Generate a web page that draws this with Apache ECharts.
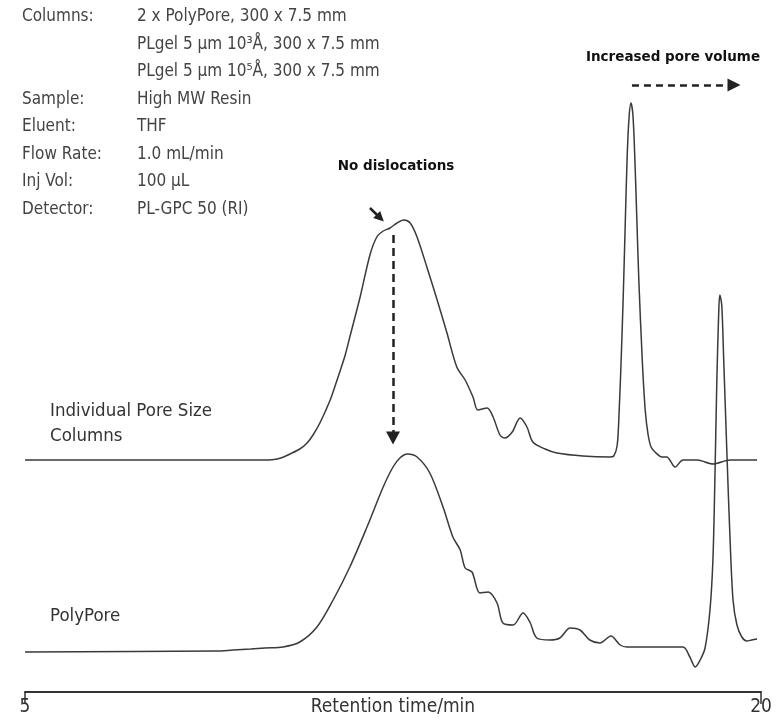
<!DOCTYPE html>
<html>
<head>
<meta charset="utf-8">
<script src="https://cdn.jsdelivr.net/npm/echarts@6/dist/echarts.min.js"></script>
<style>
html,body{margin:0;padding:0;background:#fff;}
#chart{width:780px;height:721px;}
</style>
</head>
<body>
<div id="chart"></div>
<script>
// Retention time (min) and detector response (arbitrary units, offset traces)
var timeTop = [5.00, 9.59, 9.95, 10.14, 10.27, 10.40, 10.60, 10.75, 10.87, 11.01, 11.22, 11.36, 11.52, 11.62, 11.83, 12.03, 12.17, 12.30, 12.44, 12.58, 12.72, 12.85, 12.99, 13.19, 13.40, 13.60, 13.80, 13.97, 14.13, 14.23, 14.42, 14.54, 14.68, 14.78, 14.93, 15.09, 15.23, 15.35, 15.60, 15.84, 16.37, 16.92, 17.00, 17.07, 17.11, 17.15, 17.19, 17.23, 17.27, 17.31, 17.35, 17.39, 17.43, 17.47, 17.51, 17.58, 17.64, 17.70, 17.76, 17.84, 17.98, 18.08, 18.25, 18.41, 18.70, 19.02, 19.37, 19.92];
var signalTop = [232, 232, 232, 233, 235, 238, 243, 249, 257, 269, 292, 312, 336, 355, 395, 437, 455, 461, 464, 469, 472, 469, 455, 425, 392, 359, 325, 312, 295, 282, 284, 275, 257, 254, 260, 274, 265, 250, 243, 239, 236, 235, 236, 247, 282, 332, 392, 462, 532, 574, 589, 577, 532, 472, 412, 332, 282, 257, 245, 240, 235, 235, 225, 232, 232, 228, 232, 232];

var timePoly = [5.00, 8.90, 9.24, 9.60, 9.89, 10.26, 10.60, 10.95, 11.28, 11.62, 11.97, 12.30, 12.50, 12.64, 12.79, 12.99, 13.25, 13.52, 13.72, 13.87, 13.97, 14.11, 14.27, 14.44, 14.62, 14.74, 14.95, 15.15, 15.29, 15.43, 15.70, 15.90, 16.11, 16.31, 16.51, 16.72, 16.94, 17.13, 17.27, 18.41, 18.55, 18.66, 18.76, 18.86, 18.96, 19.02, 19.06, 19.10, 19.14, 19.16, 19.20, 19.24, 19.31, 19.37, 19.43, 19.51, 19.61, 19.71, 19.81, 19.92];
var signalPoly = [40, 41, 42, 43, 44, 45, 50, 65, 92, 125, 165, 205, 225, 234, 238, 235, 219, 185, 155, 142, 124, 120, 99, 100, 89, 69, 67, 79, 70, 54, 52, 54, 64, 62, 52, 49, 56, 47, 45, 45, 35, 25, 32, 44, 82, 132, 212, 312, 382, 397, 387, 332, 232, 152, 92, 67, 55, 51, 52, 53];

var xTicks = [5, 20];
var seriesNames = ['Individual Pore Size Columns', 'PolyPore'];

var infoLabels = ['Columns:', '', '', 'Sample:', 'Eluent:', 'Flow Rate:', 'Inj Vol:', 'Detector:'];
var infoValues = ['2 x PolyPore, 300 x 7.5 mm', 'PLgel 5 µm 10³Å, 300 x 7.5 mm', 'PLgel 5 µm 10⁵Å, 300 x 7.5 mm', 'High MW Resin', 'THF', '1.0 mL/min', '100 µL', 'PL-GPC 50 (RI)'];

function zip(a, b) { return a.map(function (v, i) { return [v, b[i]]; }); }

var condensed = "'Liberation Sans Narrow', 'DejaVu Sans Condensed', 'Roboto', sans-serif";
var boldFont = "'DejaVu Sans', 'Noto Sans', sans-serif";
var ink = '#333333';

var chart = echarts.init(document.getElementById('chart'), null, {renderer: 'canvas'});
var option = {
  animation: false,
  backgroundColor: '#ffffff',
  grid: {left: 25, right: 19, top: 42, bottom: 29, outerBoundsMode: 'none', containLabel: false},
  xAxis: {
    type: 'value', min: 5, max: 20, interval: 15,
    axisLine: {show: true, lineStyle: {color: ink, width: 2}},
    axisTick: {show: true, length: 12, lineStyle: {color: ink, width: 1.5}},
    axisLabel: {
      color: ink, fontSize: 19, fontFamily: condensed, margin: 6,
      formatter: function (v) { return xTicks.indexOf(v) >= 0 ? String(v) : ''; }
    },
    splitLine: {show: false},
    name: 'Retention time/min', nameLocation: 'middle', nameGap: 6, nameMoveOverlap: false,
    nameTextStyle: {color: ink, fontSize: 19, fontFamily: condensed, verticalAlign: 'top'}
  },
  yAxis: {type: 'value', min: 0, max: 650, show: false},
  series: [
    {
      name: seriesNames[0], type: 'line', data: zip(timeTop, signalTop),
      showSymbol: false, smooth: 0.3, clip: false,
      lineStyle: {color: '#3a3a3a', width: 1.5},
      silent: true,
      markLine: {
        silent: true, animation: false,
        label: {show: false},
        data: [
          [{coord: [12.50, 457], symbol: 'none', lineStyle: {type: [8, 5], width: 2.5, color: '#222'}},
           {coord: [12.50, 254], symbol: 'triangle', symbolSize: [14, 13]}],
          [{coord: [17.37, 607], symbol: 'none', lineStyle: {type: [7, 5], width: 2.5, color: '#222'}},
           {coord: [19.45, 607], symbol: 'triangle', symbolSize: [13, 13]}],
          [{coord: [12.03, 484], symbol: 'none', lineStyle: {type: 'solid', width: 2.5, color: '#222'}},
           {coord: [12.24, 474], symbol: 'triangle', symbolSize: [10, 10]}]
        ]
      }
    },
    {
      name: seriesNames[1], type: 'line', data: zip(timePoly, signalPoly),
      showSymbol: false, smooth: 0.3, clip: false,
      lineStyle: {color: '#3a3a3a', width: 1.5},
      silent: true
    }
  ],
  graphic: [
    {type: 'text', left: 22, top: 3, style: {text: infoLabels.join('\n'), fill: '#444', font: '17px ' + condensed, lineHeight: 27.5}},
    {type: 'text', left: 137, top: 3, style: {text: infoValues.join('\n'), fill: '#444', font: '17px ' + condensed, lineHeight: 27.5}},
    {type: 'text', left: 50, top: 399, style: {text: 'Individual Pore Size\nColumns', fill: '#333', font: '18.5px ' + condensed, lineHeight: 25}},
    {type: 'text', left: 50, top: 604, style: {text: 'PolyPore', fill: '#333', font: '18.5px ' + condensed, lineHeight: 25}},
    {type: 'text', x: 396, y: 166, style: {text: 'No dislocations', fill: '#111', font: 'bold 13.5px ' + boldFont, align: 'center', verticalAlign: 'middle'}},
    {type: 'text', x: 673, y: 57, style: {text: 'Increased pore volume', fill: '#111', font: 'bold 13.5px ' + boldFont, align: 'center', verticalAlign: 'middle'}}
  ]
};
chart.setOption(option);
</script>
</body>
</html>
